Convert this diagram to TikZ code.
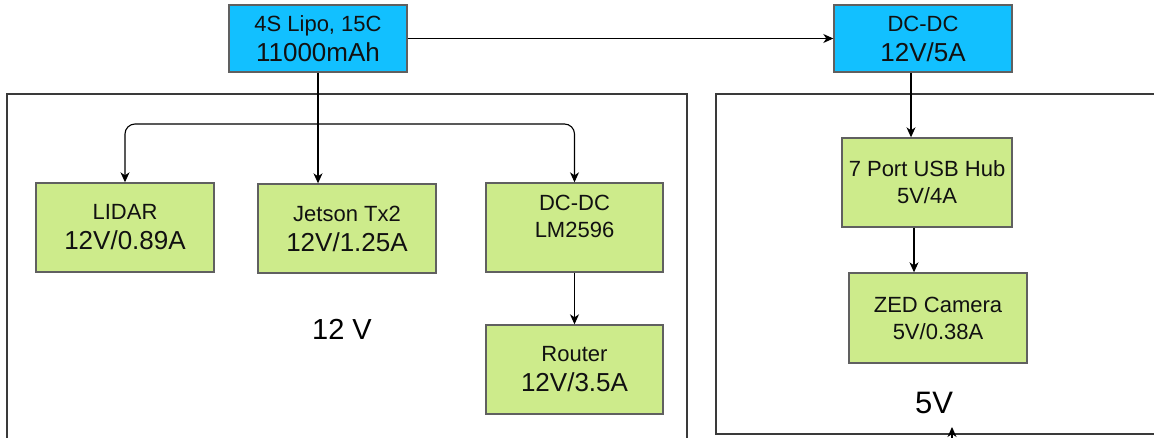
\documentclass[tikz,border=0pt]{standalone}
\usepackage{fontspec}
\setmainfont{Liberation Sans}
\usetikzlibrary{arrows.meta}
\definecolor{bluefill}{HTML}{12C0FF}
\definecolor{greenfill}{HTML}{CDEB8B}
\definecolor{boxline}{HTML}{606060}
\definecolor{regline}{HTML}{3A3A3A}
\definecolor{txt}{HTML}{111111}
\tikzset{
  blockbase/.style={draw=boxline, line width=1.4pt, inner sep=0pt, align=center, text=txt},
  bluebox/.style={blockbase, fill=bluefill, minimum width=178pt, minimum height=67pt},
  greenbox/.style={blockbase, fill=greenfill, minimum width=178pt, minimum height=89pt},
  bigtwo/.style={font=\fontsize{26}{30}\selectfont},
  smalltwo/.style={font=\fontsize{22}{27}\selectfont},
  region/.style={draw=regline, line width=1.3pt},
  conn/.style={draw=black, line width=1.1pt, -{Stealth[length=10pt,width=9pt,inset=3pt]}},
  bigtext/.style={text=black, inner sep=0pt}
}
\newcommand{\sm}[1]{{\fontsize{22}{27}\selectfont #1}}
\begin{document}
\begin{tikzpicture}[x=1pt,y=-1pt]
\useasboundingbox (0,0) rectangle (1154,437);
\clip (0,0) rectangle (1154,437);
\fill[white] (0,0) rectangle (1154,437);
% regions
\draw[region] (7,94) rectangle (687,480);
\draw[region] (716,94) rectangle (1200,434);
% top boxes
\node[bluebox, bigtwo] (bat) at (318,38.5) {\sm{4S Lipo, 15C}\\11000mAh};
\node[bluebox, bigtwo] (dctop) at (923,38.5) {\sm{DC-DC}\\12V/5A};
% left
\node[greenbox, bigtwo] (lidar) at (125,227.5) {\sm{LIDAR}\\12V/0.89A};
\node[greenbox, bigtwo] (jet) at (347,228.5) {\sm{Jetson Tx2}\\12V/1.25A};
\node[greenbox, minimum width=177pt] (lm) at (574.5,227.5) {};
\node[smalltwo, text=txt, align=center, inner sep=0pt, anchor=north] (lmtext) at (574.5,195) {DC-DC\\LM2596};
\node[greenbox, bigtwo, minimum width=177pt] (router) at (574.5,369.5) {\sm{Router}\\12V/3.5A};
% right
\node[greenbox, smalltwo, minimum width=170pt] (usb) at (927,182.5) {7 Port USB Hub\\5V/4A};
\node[greenbox, smalltwo, minimum height=90pt] (zed) at (938,318) {ZED Camera\\5V/0.38A};
% labels
\node[bigtext, font=\fontsize{29}{32}\selectfont] (l12) at (342,329) {12 V};
\node[bigtext, font=\fontsize{31}{34}\selectfont] (l5) at (934,403) {5V};
% connectors
\coordinate (bus) at (318,124);
\coordinate (xu) at (911,0);
\coordinate (xz) at (914,0);
\draw[conn] (bat.east) -- (dctop.west);
\draw[conn] (bat.south) -- (bat.south |- jet.north);
\draw[conn, rounded corners=10pt] (bus) -| (lidar.north);
\draw[conn, rounded corners=10pt] (bus) -| (lm.north);
\draw[conn] (lm.south) -- (router.north);
\draw[conn] (dctop.south -| xu) -- (usb.north -| xu);
\draw[conn] (usb.south -| xz) -- (zed.north -| xz);
\coordinate (inA) at (952,470);
\coordinate (inB) at (952,427);
\draw[conn] (inA) -- (inB);
\end{tikzpicture}
\end{document}
